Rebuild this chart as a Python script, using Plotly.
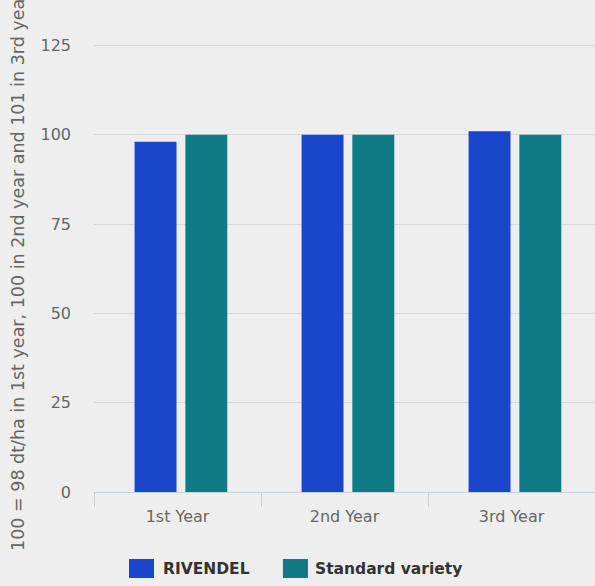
import plotly.graph_objects as go

categories = ["1st Year", "2nd Year", "3rd Year"]
rivendel = [98, 100, 101]
standard = [100, 100, 100]
series_names = ["RIVENDEL", "Standard variety"]
series_colors = ["#1946CB", "#0E7B86"]
y_ticks = [0, 25, 50, 75, 100, 125]
y_title = "100 = 98 dt/ha in 1st year, 100 in 2nd year and 101 in 3rd year"

bar_width = 0.251
bar_offsets = [-0.257, 0.047]

fig = go.Figure()
for name, vals, col, off in zip(series_names, [rivendel, standard], series_colors, bar_offsets):
    fig.add_trace(go.Bar(x=categories, y=vals, name=name, marker_color=col,
                         marker_line_width=0, width=bar_width, offset=off))

fig.update_layout(
    width=595, height=586,
    paper_bgcolor="#EEEEEE", plot_bgcolor="#EEEEEE",
    margin=dict(l=94, r=0, t=0, b=94),
    barmode="group",
    font=dict(family="DejaVu Sans", color="#666666", size=16),
    showlegend=False,
)
fig.update_xaxes(showline=True, linecolor="#C4D3E2", linewidth=1, ticks="outside",
                 tickson="boundaries", ticklen=14, tickcolor="#C4D3E2", showgrid=False,
                 range=[-0.5, 2.5], ticklabelstandoff=10,
                 tickfont=dict(size=16, color="#666666"))
fig.update_yaxes(range=[0, 137.7], tickvals=y_ticks, showgrid=True, gridcolor="#D8D8D8",
                 zeroline=False, showline=False, ticklabelstandoff=22,
                 tickfont=dict(size=16, color="#666666"))
fig.add_annotation(text=y_title, xref="paper", yref="paper", x=-0.152, y=0.449,
                   textangle=-90, showarrow=False, xanchor="center", yanchor="middle",
                   font=dict(size=17.5, color="#666666"))

# custom legend (large square symbols)
leg_sq = [(0.0699, 0.1198), (0.377, 0.427)]
leg_tx = [0.1337, 0.437]
for (x0, x1), tx, name, col in zip(leg_sq, leg_tx, series_names, series_colors):
    fig.add_shape(type="rect", xref="paper", yref="paper", x0=x0, x1=x1,
                  y0=-0.1748, y1=-0.1362, fillcolor=col, line_width=0)
    fig.add_annotation(text=name, xref="paper", yref="paper", x=tx, y=-0.1555,
                       xanchor="left", yanchor="middle", showarrow=False,
                       font=dict(size=15.5, color="#333333", weight="bold"))

fig.write_html("out.html", config={"displayModeBar": False},
               post_script="document.body.style.margin='0';")
